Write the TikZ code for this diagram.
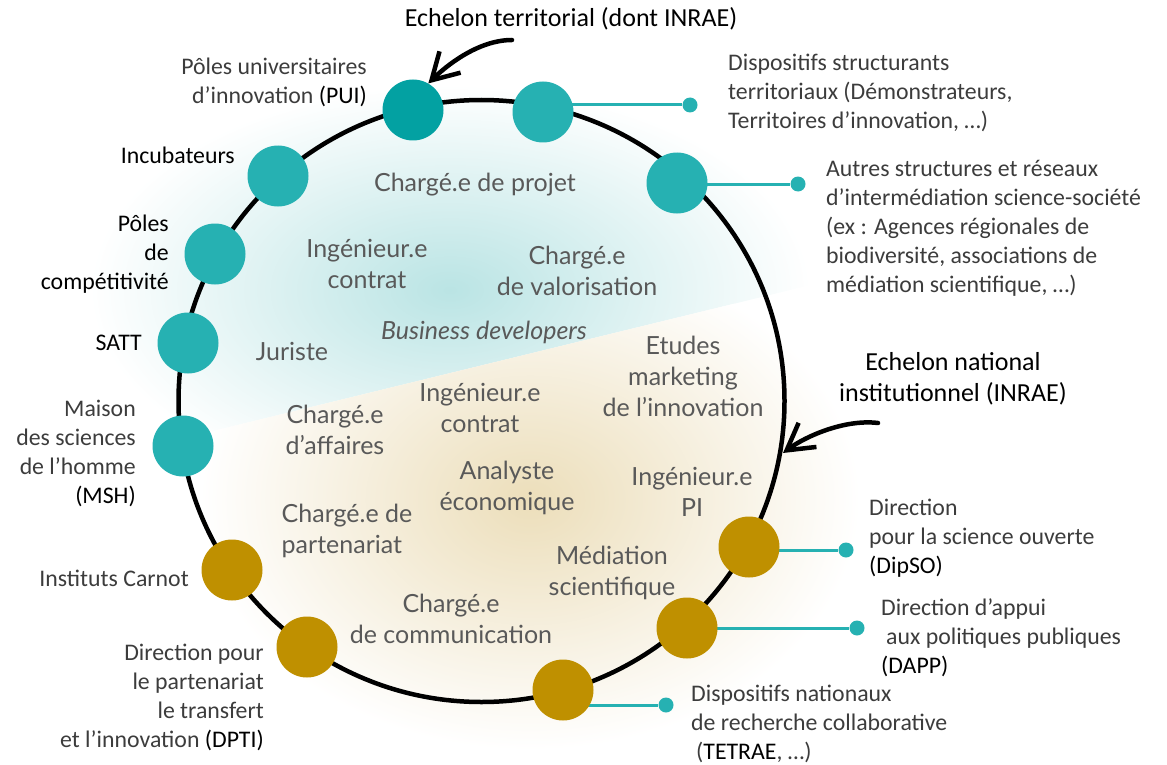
\documentclass[tikz,border=0pt]{standalone}
\usepackage{fontspec}
\setmainfont{Carlito}
\newfontfamily\gillfont{Lato}
\usetikzlibrary{arrows.meta}

\definecolor{tealnode}{RGB}{38,177,178}
\definecolor{tealdark}{RGB}{3,161,162}
\definecolor{goldnode}{RGB}{191,144,0}
\definecolor{tealglow}{RGB}{186,228,228}
\definecolor{goldglow}{RGB}{236,222,186}
\definecolor{innergray}{RGB}{89,89,89}
\definecolor{lightlabel}{RGB}{60,60,60}
\newcommand\acro[1]{\textcolor{black}{#1}}

\pgfdeclarelayer{bg}
\pgfsetlayers{bg,main}

\begin{document}
\begin{tikzpicture}[x=1pt,y=-1pt,
  ring node/.style={circle,fill=tealnode,minimum size=61pt,inner sep=0pt},
  gold node/.style={circle,fill=goldnode,minimum size=61pt,inner sep=0pt},
  end dot/.style={circle,fill=tealnode,minimum size=15pt,inner sep=0pt},
  link/.style={tealnode,line width=3pt},
  job/.style={font=\gillfont\fontsize{25}{31}\selectfont,text=innergray,align=center,inner sep=0pt},
  side/.style={font=\fontsize{23.8}{29}\selectfont,text=lightlabel,inner sep=0pt},
  echelon/.style={font=\fontsize{26}{31}\selectfont,align=center,inner sep=0pt},
  pointer/.style={-{Straight Barb[length=26pt,width=30pt]},line width=4.5pt,line cap=round}]

  \useasboundingbox (0,0) rectangle (1167,765);

  % structures on the ring
  \node[ring node,fill=tealdark] (pui) at (413,110) {};
  \node[ring node] (disp) at (543,112) {};
  \node[ring node] (autres) at (677,183) {};
  \node[ring node] (incub) at (278,176) {};
  \node[ring node] (poles) at (215,254) {};
  \node[ring node] (satt) at (188,343) {};
  \node[ring node] (msh) at (183,446) {};
  \node[gold node] (carnot) at (232,570) {};
  \node[gold node] (dpti) at (307,647) {};
  \node[gold node] (tetrae) at (563,690) {};
  \node[gold node] (dapp) at (687,628) {};
  \node[gold node] (dipso) at (749,547) {};

  \node[end dot] (dispdot) at (690,105) {};
  \node[end dot] (autresdot) at (798,184) {};
  \node[end dot] (dipsodot) at (846,550) {};
  \node[end dot] (dappdot) at (857,628) {};
  \node[end dot] (tetraedot) at (666,705) {};

  \begin{pgfonlayer}{bg}
    \begin{scope}
      \clip (0,0) -- (1167,0) -- (1167,198) -- (0,483) -- cycle;
      \shade[inner color=tealglow,outer color=white] (450,290) ellipse (360 and 205);
    \end{scope}
    \begin{scope}
      \clip (0,483) -- (1167,198) -- (1167,765) -- (0,765) -- cycle;
      \shade[inner color=goldglow,outer color=white] (530,500) ellipse (330 and 250);
    \end{scope}
    \draw[line width=4.5pt] (481.5,401) ellipse (303 and 301);
    \draw[link] (disp.center |- dispdot) -- (dispdot);
    \draw[link] (autres.center |- autresdot) -- (autresdot);
    \draw[link] (dipso.center |- dipsodot) -- (dipsodot);
    \draw[link] (dapp.center |- dappdot) -- (dappdot);
    \draw[link] (tetrae.center |- tetraedot) -- (tetraedot);
  \end{pgfonlayer}

  % labels
  \node[side,align=right,anchor=east] at (367,82) {Pôles universitaires\\d’innovation \acro{(PUI)}};
  \node[side,anchor=east,text=black] at (235,155) {Incubateurs};
  \node[side,align=right,anchor=east,text=black] at (169,254) {Pôles\\de\\compétitivité};
  \node[side,anchor=east,text=black] at (142,343) {SATT};
  \node[side,align=right,anchor=east] at (136,453) {Maison\\des sciences\\de l’homme\\\acro{(MSH)}};
  \node[side,anchor=east] at (189,578) {Instituts Carnot};
  \node[side,align=right,anchor=east] at (264,697) {Direction pour\\le partenariat\\le transfert\\et l’innovation \acro{(DPTI)}};
  \node[side,align=left,anchor=west] at (728,93) {Dispositifs structurants\\territoriaux (Démonstrateurs,\\Territoires d’innovation, …)};
  \node[side,align=left,anchor=west] at (826,228) {Autres structures et réseaux\\d’intermédiation science-société\\(ex : Agences régionales de\\biodiversité, associations de\\médiation scientifique, …)};
  \node[side,align=left,anchor=west] at (869,538) {Direction\\pour la science ouverte\\\acro{(DipSO)}};
  \node[side,align=left,anchor=west] at (881,638) {Direction d’appui\\\hspace{5pt}aux politiques publiques\\\acro{(DAPP)}};
  \node[side,align=left,anchor=west] at (691,724) {Dispositifs nationaux\\de recherche collaborative\\\hspace{5pt}(\acro{TETRAE}, …)};

  \node[echelon] (terr) at (571,19) {Echelon territorial (dont INRAE)};
  \node[echelon] (nat) at (953,379) {Echelon national\\institutionnel (INRAE)};
  \coordinate (terrtail) at (512,40);
  \coordinate (nattail) at (878,423);
  \coordinate (nattip) at (783,453);
  \draw[pointer] (terrtail) .. controls (478,40) and (446,66) .. (pui.60);
  \draw[pointer] (nattail) .. controls (845,419) and (806,436) .. (nattip);

  % jobs inside the ring
  \node[job] at (475,185) {Chargé.e de projet};
  \node[job] at (367,264) {Ingénieur.e\\contrat};
  \node[job] at (577,271) {Chargé.e\\de valorisation};
  \node[job,font=\gillfont\itshape\fontsize{25}{31}\selectfont] at (484,332) {Business developers};
  \node[job] at (292,351) {Juriste};
  \node[job] at (683,376) {Etudes\\marketing\\de l’innovation};
  \node[job] at (480,408) {Ingénieur.e\\contrat};
  \node[job] at (335,430) {Chargé.e\\d’affaires};
  \node[job] at (507,488) {Analyste\\économique};
  \node[job] at (692,492) {Ingénieur.e\\PI};
  \node[job,align=left] at (347,531) {Chargé.e de\\partenariat};
  \node[job] at (612,573) {Médiation\\scientifique};
  \node[job] at (451,619) {Chargé.e\\de communication};
\end{tikzpicture}
\end{document}
